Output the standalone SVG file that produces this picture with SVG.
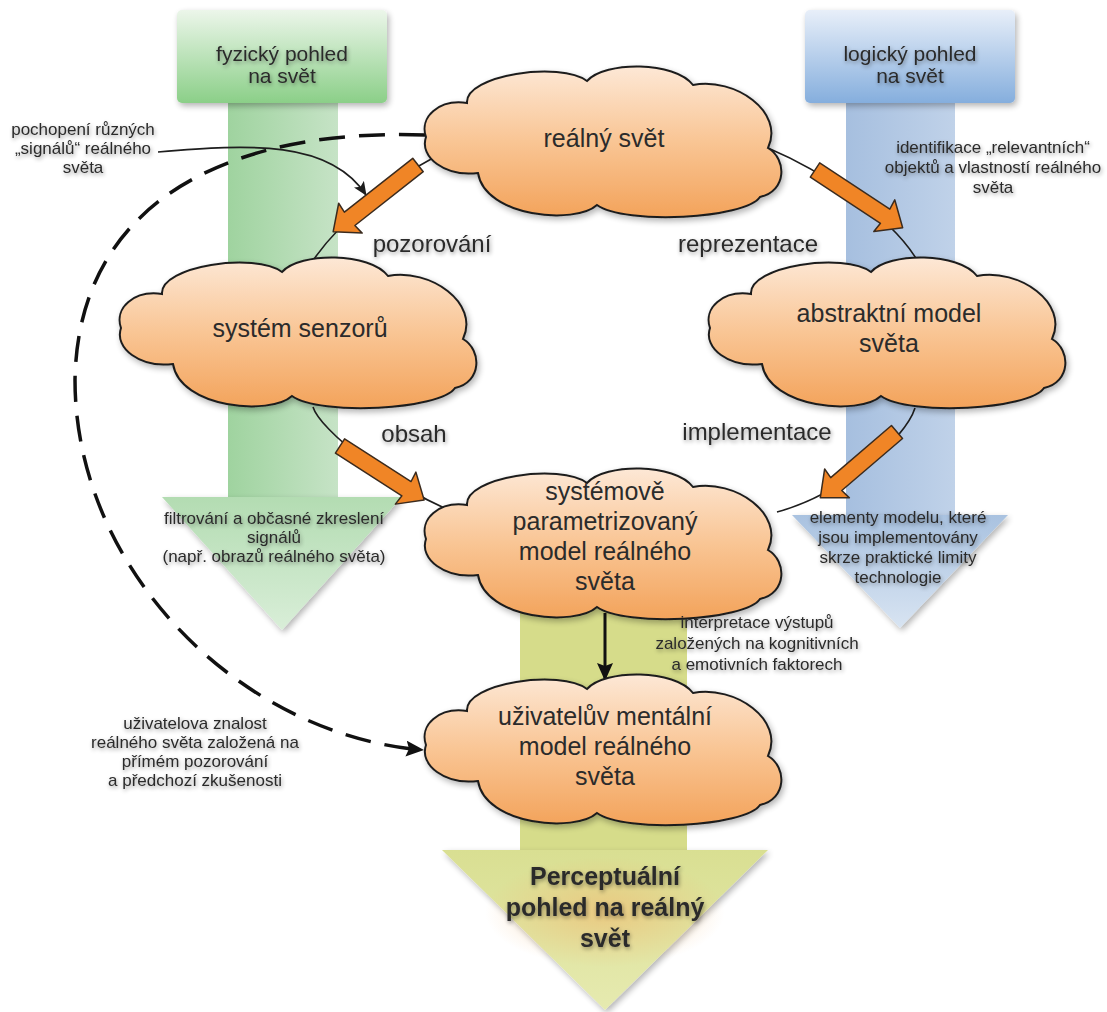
<svg xmlns="http://www.w3.org/2000/svg" xmlns:xlink="http://www.w3.org/1999/xlink" width="1107" height="1012" viewBox="0 0 1107 1012">
  <style>
    .lbl { font-family: "Liberation Sans", Arial, sans-serif; fill: #2b2b2b; text-anchor: middle; }
    .small { font-size: 17px; }
    .head { font-size: 21px; }
    .ring { font-size: 24px; }
    .cl { font-size: 25px; }
    .big { font-size: 25px; font-weight: bold; }
    .conn { fill: none; stroke: #1e1e1e; stroke-width: 1.6; }
    .orange { fill: #f08526; stroke: #3b2b1e; stroke-width: 1.5; stroke-linejoin: round; }
    .cloud { fill: url(#cloudFill); stroke: #1e1e1e; stroke-width: 2; }
  </style>
  <defs>
    <linearGradient id="cloudFill" x1="0" y1="0" x2="0" y2="1">
      <stop offset="0" stop-color="#fde8d6"/>
      <stop offset="0.5" stop-color="#f9c594"/>
      <stop offset="1" stop-color="#f3a35b"/>
    </linearGradient>
    <linearGradient id="greenHead" x1="0" y1="0" x2="0" y2="1">
      <stop offset="0" stop-color="#ecf6ea"/>
      <stop offset="1" stop-color="#8bcf88"/>
    </linearGradient>
    <linearGradient id="blueHead" x1="0" y1="0" x2="0" y2="1">
      <stop offset="0" stop-color="#e8eff9"/>
      <stop offset="1" stop-color="#85aedd"/>
    </linearGradient>
    <linearGradient id="greenShaft" x1="0" y1="0" x2="1" y2="0">
      <stop offset="0" stop-color="#9fd39f"/>
      <stop offset="1" stop-color="#c6e3c6"/>
    </linearGradient>
    <linearGradient id="blueShaft" x1="0" y1="0" x2="1" y2="0">
      <stop offset="0" stop-color="#a6bfdf"/>
      <stop offset="1" stop-color="#c0d2e9"/>
    </linearGradient>
    <linearGradient id="greenTip" x1="0" y1="0" x2="0" y2="1">
      <stop offset="0" stop-color="#b3dcb2"/>
      <stop offset="1" stop-color="#d9eed8"/>
    </linearGradient>
    <linearGradient id="blueTip" x1="0" y1="0" x2="0" y2="1">
      <stop offset="0" stop-color="#a9c2e0"/>
      <stop offset="1" stop-color="#d8e4f2"/>
    </linearGradient>
    <linearGradient id="yellowTip" x1="0" y1="0" x2="0" y2="1">
      <stop offset="0" stop-color="#d9df92"/>
      <stop offset="1" stop-color="#e6eab0"/>
    </linearGradient>
    <radialGradient id="glow" cx="0.5" cy="0.5" r="0.5">
      <stop offset="0" stop-color="#f3b46a" stop-opacity="0.55"/>
      <stop offset="1" stop-color="#f3b46a" stop-opacity="0"/>
    </radialGradient>
    <filter id="shadow" x="-10%" y="-10%" width="125%" height="130%">
      <feGaussianBlur in="SourceAlpha" stdDeviation="3"/>
      <feOffset dx="2" dy="3"/>
      <feComponentTransfer><feFuncA type="linear" slope="0.3"/></feComponentTransfer>
      <feMerge><feMergeNode/><feMergeNode in="SourceGraphic"/></feMerge>
    </filter>
    <filter id="txtShadow" x="-10%" y="-40%" width="120%" height="180%">
      <feGaussianBlur in="SourceAlpha" stdDeviation="2"/>
      <feOffset dx="1" dy="2"/>
      <feComponentTransfer><feFuncA type="linear" slope="0.4"/></feComponentTransfer>
      <feMerge><feMergeNode/><feMergeNode in="SourceGraphic"/></feMerge>
    </filter>
    <marker id="tipS" markerUnits="userSpaceOnUse" markerWidth="14" markerHeight="12" refX="13" refY="6" orient="auto">
      <path d="M0,0 L14,6 L0,12 L3,6 Z" fill="#1e1e1e"/>
    </marker>
    <marker id="tipL" markerUnits="userSpaceOnUse" markerWidth="18" markerHeight="16" refX="17" refY="8" orient="auto">
      <path d="M0,0 L18,8 L0,16 L3,8 Z" fill="#111"/>
    </marker>
    <!-- cloud outline, 358 x 148 -->
    <path id="cloudShape" d="M 1,70 C -6,50 14,32 42,36 C 40,8 135,-6 162,14 C 180,-6 250,-6 268,18 C 310,10 360,45 343,81 C 362,92 362,124 335,130 C 320,152 200,158 172,138 C 150,158 60,150 53,106 C 20,110 -6,90 1,70 Z"/>
  </defs>

  <rect width="1107" height="1012" fill="#ffffff"/>

  <!-- big view arrows -->
  <g id="physical-view">
    <rect x="228" y="100" width="110" height="398" fill="url(#greenShaft)"/>
    <path d="M162,497 L402,497 L282,630 Z" fill="url(#greenTip)" filter="url(#shadow)"/>
    <rect x="177" y="10" width="210" height="93" rx="5" fill="url(#greenHead)" filter="url(#shadow)"/>
    <text class="lbl head" filter="url(#txtShadow)"><tspan x="282" y="61">fyzický pohled</tspan><tspan x="282" y="83">na svět</tspan></text>
  </g>

  <g id="logical-view">
    <rect x="846" y="100" width="109" height="416" fill="url(#blueShaft)"/>
    <path d="M792,515 L1008,515 L900,628 Z" fill="url(#blueTip)" filter="url(#shadow)"/>
    <rect x="805" y="10" width="210" height="93" rx="5" fill="url(#blueHead)" filter="url(#shadow)"/>
    <text class="lbl head" filter="url(#txtShadow)"><tspan x="910" y="61">logický pohled</tspan><tspan x="910" y="83">na svět</tspan></text>
  </g>

  <g id="perceptual-view">
    <rect x="520" y="590" width="167" height="262" fill="#d6dc8a"/>
    <path d="M442,850 L768,850 L605,1010 Z" fill="url(#yellowTip)" filter="url(#shadow)"/>
    <ellipse cx="605" cy="912" rx="120" ry="55" fill="url(#glow)"/>
    <text class="lbl big" filter="url(#txtShadow)"><tspan x="605" y="885">Perceptuální</tspan><tspan x="605" y="916">pohled na reálný</tspan><tspan x="605" y="947">svět</tspan></text>
  </g>

  <!-- connectors -->
  <g id="connectors">
    <path class="conn" d="M 433,158 C 395,178 340,220 312,262"/>
    <path class="conn" d="M 768,148 C 820,170 890,215 917,260"/>
    <path class="conn" d="M 313,407 C 320,430 390,485 453,512"/>
    <path class="conn" d="M 915,408 C 905,440 840,495 777,512"/>
    <path class="conn" d="M 158,152 C 250,144 330,140 366,195" marker-end="url(#tipS)"/>
    <path fill="none" stroke="#111" stroke-width="3.5" stroke-dasharray="26 14" d="M 425,135 C 240,128 78,195 75,380 C 75,570 240,735 423,750" marker-end="url(#tipL)"/>
    <path fill="none" stroke="#111" stroke-width="3" d="M 605,613 L 605,680" marker-end="url(#tipL)"/>
    <!-- orange block arrows along the cycle -->
    <g transform="translate(418,165) rotate(141.8)"><path class="orange" d="M0,-8.5 L87,-8.5 L86,-19 L108,0 L86,19 L87,8.5 L0,8.5 Z"/></g>
    <g transform="translate(815,170) rotate(33.4)"><path class="orange" d="M0,-8.5 L84,-8.5 L83,-19 L105,0 L83,19 L84,8.5 L0,8.5 Z"/></g>
    <g transform="translate(340,446) rotate(32.7)"><path class="orange" d="M0,-8.5 L79,-8.5 L78,-19 L100,0 L78,19 L79,8.5 L0,8.5 Z"/></g>
    <g transform="translate(897,432) rotate(139.4)"><path class="orange" d="M0,-8.5 L80,-8.5 L79,-19 L101,0 L79,19 L80,8.5 L0,8.5 Z"/></g>
  </g>

  <!-- cycle labels -->
  <g id="cycle-labels" filter="url(#txtShadow)">
    <text class="lbl ring" x="432" y="252">pozorování</text>
    <text class="lbl ring" x="748" y="252">reprezentace</text>
    <text class="lbl ring" x="414" y="442">obsah</text>
    <text class="lbl ring" x="757" y="440">implementace</text>
  </g>

  <!-- clouds -->
  <g id="real-world">
    <use href="#cloudShape" class="cloud" transform="translate(425,67)" filter="url(#shadow)"/>
    <text class="lbl cl" x="604" y="147">reálný svět</text>
  </g>
  <g id="sensor-system">
    <use href="#cloudShape" class="cloud" transform="translate(120,258)" filter="url(#shadow)"/>
    <text class="lbl cl" x="300" y="337">systém senzorů</text>
  </g>
  <g id="abstract-model">
    <use href="#cloudShape" class="cloud" transform="translate(709,258)" filter="url(#shadow)"/>
    <text class="lbl cl"><tspan x="889" y="322">abstraktní model</tspan><tspan x="889" y="352">světa</tspan></text>
  </g>
  <g id="parametrized-model">
    <use href="#cloudShape" class="cloud" transform="translate(425,469)" filter="url(#shadow)"/>
    <text class="lbl cl"><tspan x="605" y="500">systémově</tspan><tspan x="605" y="530">parametrizovaný</tspan><tspan x="605" y="560">model reálného</tspan><tspan x="605" y="590">světa</tspan></text>
  </g>
  <g id="mental-model">
    <use href="#cloudShape" class="cloud" transform="translate(425,675)" filter="url(#shadow)"/>
    <text class="lbl cl"><tspan x="605" y="725">uživatelův mentální</tspan><tspan x="605" y="755">model reálného</tspan><tspan x="605" y="785">světa</tspan></text>
  </g>

  <!-- annotations -->
  <g id="notes" filter="url(#txtShadow)">
    <text class="lbl small"><tspan x="83" y="135">pochopení různých</tspan><tspan x="83" y="154">„signálů“ reálného</tspan><tspan x="83" y="173">světa</tspan></text>
    <text class="lbl small"><tspan x="993" y="153">identifikace „relevantních“</tspan><tspan x="993" y="173">objektů a vlastností reálného</tspan><tspan x="993" y="193">světa</tspan></text>
    <text class="lbl small"><tspan x="274" y="524">filtrování a občasné zkreslení</tspan><tspan x="274" y="543">signálů</tspan><tspan x="274" y="562">(např. obrazů reálného světa)</tspan></text>
    <text class="lbl small"><tspan x="898" y="523">elementy modelu, které</tspan><tspan x="898" y="543">jsou implementovány</tspan><tspan x="898" y="563">skrze praktické limity</tspan><tspan x="898" y="583">technologie</tspan></text>
    <text class="lbl small"><tspan x="757" y="628">interpretace výstupů</tspan><tspan x="757" y="649">založených na kognitivních</tspan><tspan x="757" y="670">a emotivních faktorech</tspan></text>
    <text class="lbl small"><tspan x="195" y="729">uživatelova znalost</tspan><tspan x="195" y="748">reálného světa založená na</tspan><tspan x="195" y="767">přímém pozorování</tspan><tspan x="195" y="786">a předchozí zkušenosti</tspan></text>
  </g>
</svg>
